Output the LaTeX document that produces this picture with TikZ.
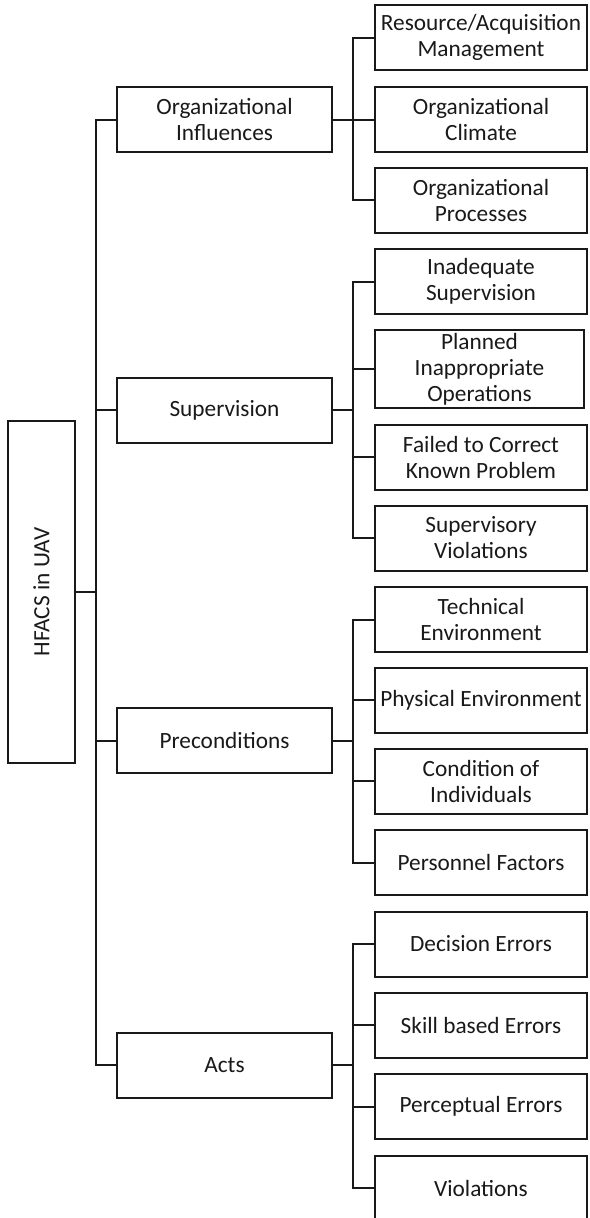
\documentclass[tikz,border=0pt]{standalone}
\usepackage{fontspec}
\setmainfont{Carlito}
\begin{document}
\begin{tikzpicture}[x=1pt,y=-1pt,
  line width=2pt, draw=black!90, line join=miter,
  box/.style={draw, rectangle, inner sep=0pt, align=center,
    font=\fontsize{23.3}{26}\selectfont, text=black!90},
  cat/.style={box, minimum width=215pt, minimum height=65pt},
  leaf/.style={box, minimum width=212pt, minimum height=65pt},
  link/.style={line width=2pt}]
\useasboundingbox (0,0) rectangle (589,1218);

% root of the tree (rotated: its south anchor faces right)
\node[box, rotate=90, minimum width=342pt, minimum height=67pt] (root) at (41.5,592) {HFACS in UAV};

% first level
\node[cat] (oi)   at (224.5,119.5) {Organizational\\Influences};
\node[cat] (sup)  at (224.5,410)   {Supervision};
\node[cat] (pre)  at (224.5,740.5) {Preconditions};
\node[cat] (acts) at (224.5,1065)  {Acts};

% second level
\node[leaf] (ra) at (481,37.5)  {Resource/Acquisition\\Management};
\node[leaf] (rb) at (481,119.5) {Organizational\\Climate};
\node[leaf] (rc) at (481,200)   {Organizational\\Processes};

\node[leaf] (sa) at (481,281.5) {Inadequate\\Supervision};
\node[leaf, minimum width=209pt, minimum height=78pt] (sb) at (479.5,369) {Planned\\Inappropriate\\Operations};
\node[leaf] (sc) at (481,457)   {Failed to Correct\\Known Problem};
\node[leaf] (sd) at (481,538)   {Supervisory\\Violations};

\node[leaf] (pa) at (481,619.5) {Technical\\Environment};
\node[leaf] (pb) at (481,700)   {Physical Environment};
\node[leaf] (pc) at (481,781)   {Condition of\\Individuals};
\node[leaf] (pd) at (481,862.5) {Personnel Factors};

\node[leaf] (aa) at (481,944)   {Decision Errors};
\node[leaf] (ab) at (481,1025)  {Skill based Errors};
\node[leaf] (ac) at (481,1106.5){Perceptual Errors};
\node[leaf] (ad) at (481,1188)  {Violations};

% vertical buses
\coordinate (trunk) at (96,0);
\coordinate (bus)   at (353,0);

% trunk from the root to the first level
\draw[link] (root.south) -- (root.south -| trunk);
\draw[link] (oi.west) -- (oi.west -| trunk) -- (acts.west -| trunk) -- (acts.west);
\draw[link] (sup.west) -- (sup.west -| trunk);
\draw[link] (pre.west) -- (pre.west -| trunk);

% organizational influences
\draw[link] (ra.west) -- (ra.west -| bus) -- (rc.west -| bus) -- (rc.west);
\draw[link] (oi.east) -- (rb.west);

% supervision
\draw[link] (sa.west) -- (sa.west -| bus) -- (sd.west -| bus) -- (sd.west);
\draw[link] (sup.east) -- (sup.east -| bus);
\draw[link] (sb.west) -- (sb.west -| bus);
\draw[link] (sc.west) -- (sc.west -| bus);

% preconditions
\draw[link] (pa.west) -- (pa.west -| bus) -- (pd.west -| bus) -- (pd.west);
\draw[link] (pre.east) -- (pre.east -| bus);
\draw[link] (pb.west) -- (pb.west -| bus);
\draw[link] (pc.west) -- (pc.west -| bus);

% acts
\draw[link] (aa.west) -- (aa.west -| bus) -- (ad.west -| bus) -- (ad.west);
\draw[link] (acts.east) -- (acts.east -| bus);
\draw[link] (ab.west) -- (ab.west -| bus);
\draw[link] (ac.west) -- (ac.west -| bus);
\end{tikzpicture}
\end{document}
